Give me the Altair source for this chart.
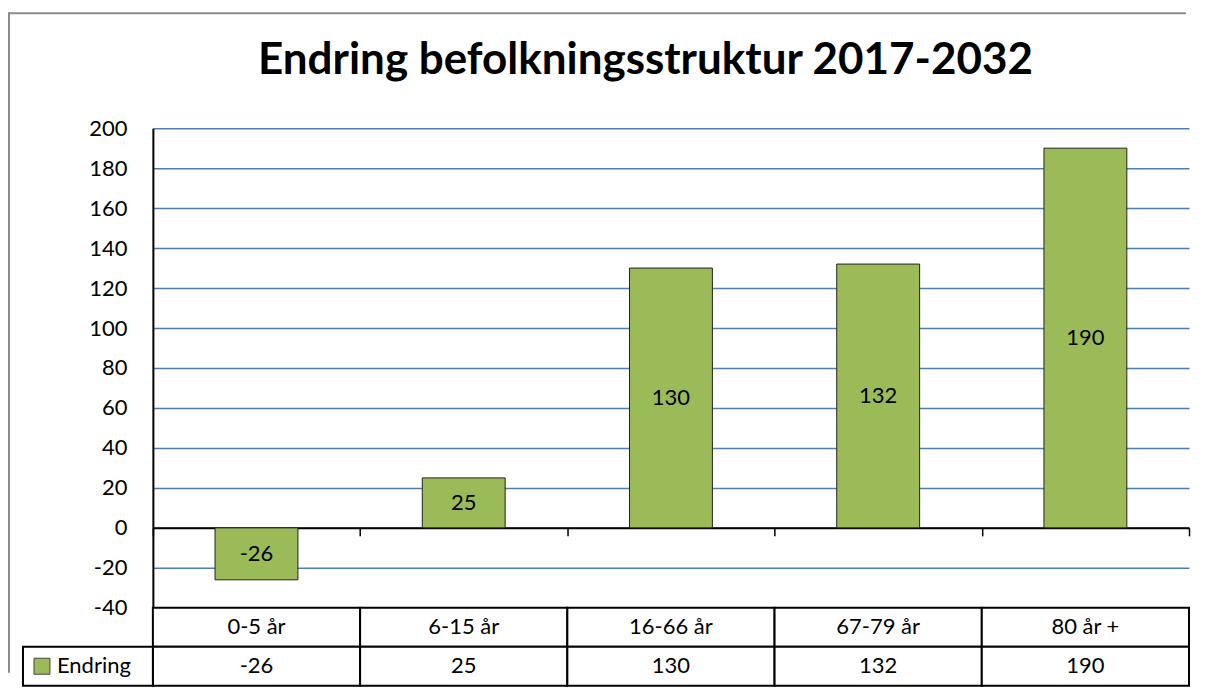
import altair as alt
import pandas as pd

categories = ["0-5 år", "6-15 år", "16-66 år", "67-79 år", "80 år +"]
values = [-26, 25, 130, 132, 190]
series_name = "Endring"
title_text = "Endring befolkningsstruktur 2017-2032"
y_ticks = list(range(-40, 201, 20))

GREEN = "#9bbb59"
GRID = "#4a7ebb"
FONT = "Lato"
FS = 22

df = pd.DataFrame({"cat": categories, "val": values})
df["mid"] = df["val"] / 2
df["lbl"] = df["val"].astype(str)

W = 1037
H_PLOT = 480
H_TAB = 78

y_axis = alt.Axis(title=None, values=y_ticks, grid=True, labelOverlap=False,
                  gridColor=GRID, gridWidth=1.5, ticks=False,
                  labelExpr="'' + datum.value",
                  domainColor="black", domainWidth=2,
                  labelFont=FONT, labelFontSize=FS, labelColor="black",
                  labelPadding=26)
y_scale = alt.Scale(domain=[-40, 200], nice=False)
x_axis = alt.Axis(title=None, labels=False, tickBand="extent",
                  offset=-80, domainColor="black", domainWidth=2,
                  tickColor="black", tickWidth=1.5, tickSize=8, grid=False)
x_scale = alt.Scale(paddingInner=0, paddingOuter=0)

bars = alt.Chart(df).mark_bar(color=GREEN, stroke="#222222", strokeWidth=1,
                              width=alt.RelativeBandSize(0.4)).encode(
    x=alt.X("cat:N", sort=categories, scale=x_scale, axis=x_axis),
    y=alt.Y("val:Q", scale=y_scale, axis=y_axis)
)
labels = alt.Chart(df).mark_text(font=FONT, fontSize=FS, color="black").encode(
    x=alt.X("cat:N", sort=categories, scale=x_scale, axis=x_axis),
    y=alt.Y("mid:Q", scale=y_scale, axis=y_axis),
    text=alt.Text("lbl:N")
)
# outer chart-area frame (decoration)
frame_df = pd.DataFrame({"k": [0]})
frame_top = alt.Chart(frame_df).mark_rect(color="#8c8c8c").encode(
    x=alt.value(-145), x2=alt.value(1034), y=alt.value(-116), y2=alt.value(-114))
frame_left = alt.Chart(frame_df).mark_rect(color="#8c8c8c").encode(
    x=alt.value(-145), x2=alt.value(-143), y=alt.value(-116), y2=alt.value(545))
top = alt.layer(frame_top, frame_left, bars, labels).properties(width=W, height=H_PLOT)

# data table
rows = []
for c, v in zip(categories, values):
    rows.append({"cat": c, "row": "a", "txt": c})
    rows.append({"cat": c, "row": "b", "txt": str(v)})
tdf = pd.DataFrame(rows)

x_tab = alt.X("cat:N", sort=categories,
              scale=alt.Scale(paddingInner=0, paddingOuter=0), axis=None)
y_tab = alt.Y("row:N", sort=["a", "b"],
              scale=alt.Scale(paddingInner=0, paddingOuter=0), axis=None)

cells = alt.Chart(tdf).mark_rect(fill="white", stroke="black", strokeWidth=2).encode(
    x=x_tab, y=y_tab
)
cell_text = alt.Chart(tdf).mark_text(font=FONT, fontSize=FS, color="black").encode(
    x=x_tab, y=y_tab, text="txt:N"
)
leg_df = pd.DataFrame({"row": ["b"], "name": [series_name]})
leg_cell = alt.Chart(leg_df).mark_rect(fill="white", stroke="black", strokeWidth=2).encode(
    x=alt.value(-130), x2=alt.value(0), y=y_tab
)
leg_sym = alt.Chart(leg_df).mark_point(shape="square", size=256, filled=True,
                                       fill=GREEN, stroke="#444444", strokeWidth=1,
                                       opacity=1).encode(
    x=alt.value(-111), y=y_tab
)
leg_text = alt.Chart(leg_df).mark_text(font=FONT, fontSize=FS, color="black",
                                       align="left").encode(
    x=alt.value(-96), y=y_tab, text="name:N"
)
bottom = alt.layer(cells, cell_text, leg_cell, leg_sym, leg_text).properties(
    width=W, height=H_TAB)

chart = alt.vconcat(top, bottom, spacing=0, bounds="flush").properties(
    title=alt.TitleParams(title_text, font=FONT, fontSize=44, fontWeight="bold",
                          color="black", orient="none", anchor="start",
                          align="center", baseline="alphabetic",
                          dx=493, dy=-54),
    padding={"left": 0, "top": 4, "right": 10, "bottom": 0}
).configure_view(stroke=None).resolve_scale(x="independent")

chart.save("out.html", embed_options={"renderer": "svg", "actions": False})
